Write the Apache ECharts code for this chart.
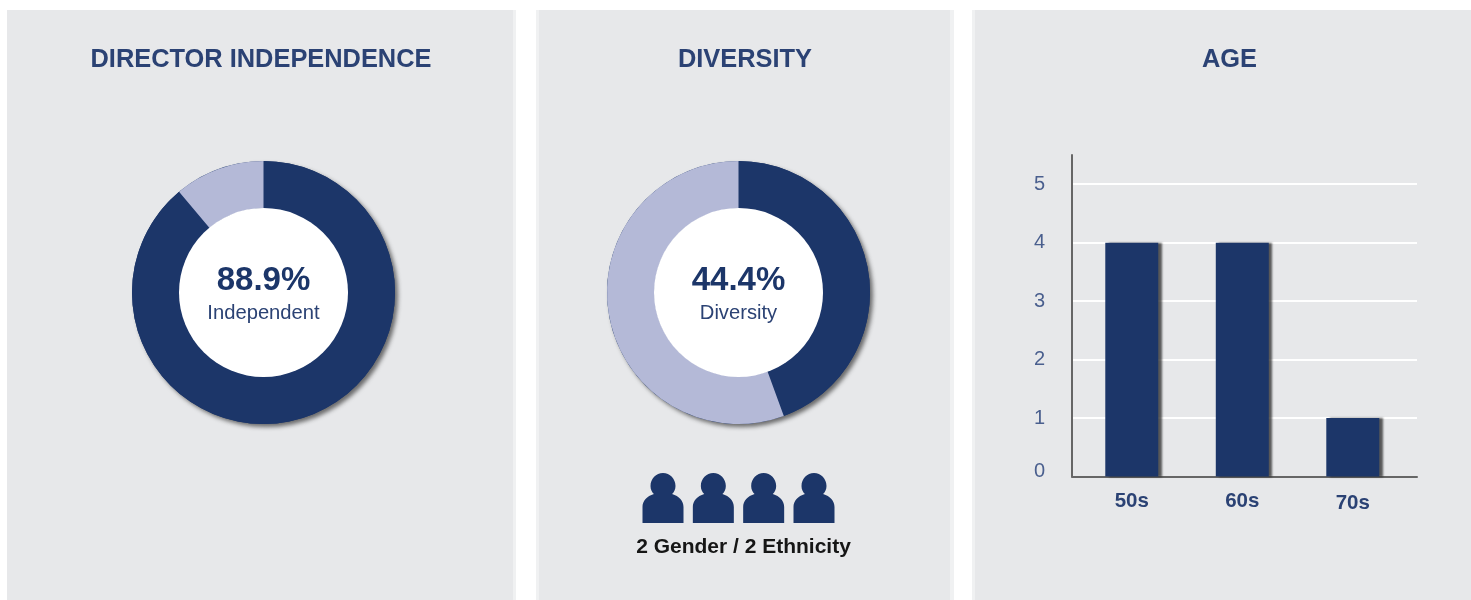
<!DOCTYPE html>
<html>
<head>
<meta charset="utf-8">
<title>Board snapshot</title>
<script src="https://cdn.jsdelivr.net/npm/echarts@6/dist/echarts.min.js"></script>
<style>
  html, body { margin: 0; padding: 0; background: #fff; }
  /* the reference is a soft, upscaled image */
  #chart-container { width: 1471px; height: 600px; filter: blur(0.6px); }
</style>
</head>
<body>
<div id="chart-container"></div>
<script>
// values
var independenceLabels = ['Independent', 'Other'];
var independenceValues = [88.9, 11.1];
var diversityLabels = ['Diversity', 'Other'];
var diversityValues = [44.4, 55.6];
var ageCategories = ['50s', '60s', '70s'];
var ageValues = [4, 4, 1];
var ageTicks = [0, 1, 2, 3, 4, 5];
var peopleSlots = [0, 1, 2, 3];

var NAVY = '#1c3669';
var LILAC = '#b4b9d7';
var TEXT = '#2b4274';
var FONT = '"Liberation Sans", Arial, sans-serif';
var PANEL = '#e7e8ea';

var personPath = 'path://M20.5 0C27.4 0 33 5.8 33 13C33 16.4 31.6 19 29.6 21C36.6 23 41 28 41 34V50H0V34C0 28 4.4 23 11.4 21C9.4 19 8 16.4 8 13C8 5.8 13.6 0 20.5 0Z';

var dom = document.getElementById('chart-container');
var myChart = echarts.init(dom, null, { renderer: 'canvas' });

function panelRect(x, w) {
  return { type: 'rect', z: -10, shape: { x: x, y: 10, width: w, height: 590 }, style: { fill: PANEL } };
}
function stripRect(x, w) {
  return { type: 'rect', z: -10, shape: { x: x, y: 10, width: w, height: 590 }, style: { fill: '#f0f1f2' } };
}
function headTitle(text, x) {
  return {
    text: text, left: x, top: 46, textAlign: 'center', padding: 0,
    textStyle: { color: TEXT, fontFamily: FONT, fontSize: 25.4, fontWeight: 'bold', lineHeight: 28 }
  };
}
function bigTitle(text, x) {
  return {
    text: text, left: x, top: 263, textAlign: 'center', padding: 0, z: 20,
    textStyle: { color: NAVY, fontFamily: FONT, fontSize: 33, fontWeight: 'bold', lineHeight: 36 }
  };
}
function smallTitle(text, x) {
  return {
    text: text, left: x, top: 302, textAlign: 'center', padding: 0, z: 20,
    textStyle: { color: TEXT, fontFamily: FONT, fontSize: 20.2, fontWeight: 'normal', lineHeight: 22 }
  };
}

// ring = soft shadow under the whole ring, slices on top, white hole in the middle
function donut(cx, labels, values) {
  var center = [cx, 292.5];
  return [
    {
      type: 'pie', silent: true, center: center, radius: [84, 131.5], z: 2,
      label: { show: false }, labelLine: { show: false }, animation: false,
      data: [{ value: 1, itemStyle: { color: NAVY, shadowColor: 'rgba(40,40,40,0.65)', shadowBlur: 4, shadowOffsetX: 3, shadowOffsetY: 3 } }]
    },
    {
      type: 'pie', silent: true, center: center, radius: [84, 131.5], startAngle: 90, z: 3,
      label: { show: false }, labelLine: { show: false }, animation: false,
      data: values.map(function (v, i) {
        return { value: v, name: labels[i], itemStyle: { color: i === 0 ? NAVY : LILAC } };
      })
    },
    {
      type: 'pie', silent: true, center: center, radius: [0, 84.5], z: 4,
      label: { show: false }, labelLine: { show: false }, animation: false,
      data: [{ value: 1, itemStyle: { color: '#fff' } }]
    }
  ];
}

var option = {
  backgroundColor: '#fff',
  animation: false,
  graphic: [
    panelRect(7, 506), stripRect(513, 3),
    stripRect(536, 3), panelRect(539, 411), stripRect(950, 4),
    stripRect(972, 3), panelRect(975, 496)
  ],
  title: [
    headTitle('DIRECTOR INDEPENDENCE', 261),
    headTitle('DIVERSITY', 745),
    headTitle('AGE', 1229.5),
    bigTitle('88.9%', 263.5),
    smallTitle('Independent', 263.5),
    bigTitle('44.4%', 738.5),
    smallTitle('Diversity', 738.5),
    {
      text: '2 Gender / 2 Ethnicity', left: 743.5, top: 535, textAlign: 'center', padding: 0,
      textStyle: { color: '#161616', fontFamily: FONT, fontSize: 21, fontWeight: 'bold', lineHeight: 24 }
    }
  ],
  grid: [
    { left: 1072, top: 155, width: 345, height: 321.5 },
    { left: 663, top: 473, width: 151, height: 50 }
  ],
  xAxis: [
    {
      gridIndex: 0, type: 'value', min: -0.541, max: 2.581,
      splitLine: { show: false },
      axisLine: { show: true, onZero: false, lineStyle: { color: '#666', width: 2 } },
      axisTick: { show: false },
      axisLabel: {
        customValues: [0, 1, 2],
        margin: 14, color: TEXT, fontFamily: FONT, fontSize: 20.5, fontWeight: 'bold',
        formatter: function (v) {
          // the 70s label sits a little lower in the source
          return v === 2 ? '{low|' + ageCategories[v] + '}' : ageCategories[v];
        },
        rich: { low: { color: TEXT, fontFamily: FONT, fontSize: 20.5, fontWeight: 'bold', padding: [2, 0, 0, 0] } }
      }
    },
    { gridIndex: 1, type: 'value', min: 0, max: 3, show: false }
  ],
  yAxis: [
    {
      gridIndex: 0, type: 'value', min: 0, max: 5.5, interval: 1,
      axisLine: { show: true, onZero: false, lineStyle: { color: '#666', width: 2 } },
      axisTick: { show: false },
      splitLine: { show: true, lineStyle: { color: '#fff', width: 2 }, showMinLine: false, showMaxLine: false },
      axisLabel: {
        customValues: ageTicks,
        margin: 27, color: '#4a5f8e', fontFamily: FONT, fontSize: 20,
        formatter: function (v) {
          // the 0 label sits above the axis line in the source
          return v === 0 ? '{up|0}' : String(v);
        },
        rich: { up: { color: '#4a5f8e', fontFamily: FONT, fontSize: 20, padding: [0, 0, 10, 0] } }
      }
    },
    { gridIndex: 1, type: 'value', min: -1, max: 1, show: false }
  ],
  series: donut(263.5, independenceLabels, independenceValues)
    .concat(donut(738.5, diversityLabels, diversityValues))
    .concat([
      {
        type: 'bar', xAxisIndex: 0, yAxisIndex: 0, barWidth: 53, z: 3,
        data: ageValues.map(function (v, i) { return [i, v]; }),
        itemStyle: { color: NAVY, shadowColor: 'rgba(40,40,40,0.75)', shadowBlur: 2, shadowOffsetX: 3.5, shadowOffsetY: 0 }
      },
      {
        type: 'scatter', xAxisIndex: 1, yAxisIndex: 1, silent: true,
        symbol: personPath, symbolSize: [41, 50], symbolKeepAspect: false,
        itemStyle: { color: NAVY, opacity: 1 },
        data: peopleSlots.map(function (s) { return [s, 0]; })
      }
    ])
};

myChart.setOption(option);
window.addEventListener('resize', myChart.resize);
</script>
</body>
</html>
